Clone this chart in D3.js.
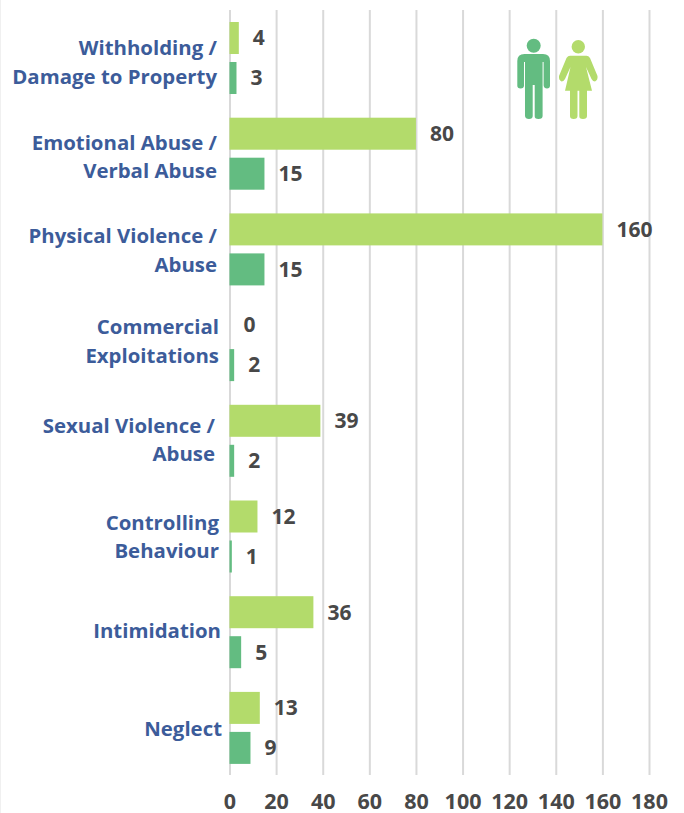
<!DOCTYPE html>
<html>
<head>
<meta charset="utf-8">
<script src="https://cdn.jsdelivr.net/npm/d3@7"></script>
<style>
html, body { margin: 0; padding: 0; background: #fff; }
text { font-family: "Open Sans", sans-serif; font-weight: 700; }
</style>
</head>
<body>
<div id="chart"></div>
<script>
var categories = [
	["Withholding /", "Damage to Property"],
	["Emotional Abuse /", "Verbal Abuse"],
	["Physical Violence /", "Abuse"],
	["Commercial", "Exploitations"],
	["Sexual Violence /", "Abuse"],
	["Controlling", "Behaviour"],
	["Intimidation"],
	["Neglect"]
];
var female = [4, 80, 160, 0, 39, 12, 36, 13];
var male = [3, 15, 15, 2, 2, 1, 5, 9];
var xTicks = [0, 20, 40, 60, 80, 100, 120, 140, 160, 180];

// category labels were hand placed in the original
var labelRight = [217, 217, 217, 219, 215, 219, 221, 222];
var labelNudge = [4.5, 3.5, 1, -3.5, -0.5, 0.5, -1, 1];

var width = 684, height = 813;
var lightGreen = "#b3db6b", darkGreen = "#63bc81";

var svg = d3.select("#chart").append("svg")
	.attr("width", width)
	.attr("height", height)
	.style("display", "block");

var x = d3.scaleLinear().domain([0, 180]).range([229.5, 649]);
var y = d3.scaleBand().domain(d3.range(categories.length)).range([10, 775.6]);
var inner = d3.scaleBand().domain(["female", "male"]).range([12, 84]).paddingInner(0.2);

// faint edge line on the left of the picture
svg.append("line")
	.attr("x1", 0.5).attr("x2", 0.5)
	.attr("y1", 0).attr("y2", height)
	.attr("stroke", "#f0f0f0");

var xAxis = d3.axisBottom(x)
	.tickValues(xTicks)
	.tickFormat(d3.format("d"))
	.tickSizeInner(-765)
	.tickSizeOuter(0)
	.tickPadding(19);

var axisG = svg.append("g")
	.attr("transform", "translate(0,775)")
	.call(xAxis);
axisG.select(".domain").remove();
axisG.selectAll(".tick line").attr("stroke", "#d9d9d9").attr("stroke-width", 2);
axisG.selectAll(".tick text")
	.attr("fill", "#484848")
	.style("font-size", "21.5px");

var series = [
	{key: "female", values: female, color: lightGreen},
	{key: "male", values: male, color: darkGreen}
];

series.forEach(function(s) {
	var g = svg.append("g");

	g.selectAll("rect")
		.data(s.values)
		.enter()
		.append("rect")
		.attr("x", x(0))
		.attr("y", function(d, i) { return y(i) + inner(s.key); })
		.attr("width", function(d) { return x(d) - x(0); })
		.attr("height", inner.bandwidth())
		.attr("fill", s.color);

	g.selectAll("text")
		.data(s.values)
		.enter()
		.append("text")
		.attr("x", function(d) { return x(d) + 14; })
		.attr("y", function(d, i) { return y(i) + inner(s.key) + inner.bandwidth() / 2; })
		.attr("dy", "0.35em")
		.attr("fill", "#484848")
		.style("font-size", "21px")
		.text(function(d) { return d; });
});

var labels = svg.append("g")
	.selectAll("text")
	.data(categories)
	.enter()
	.append("text")
	.attr("text-anchor", "end")
	.attr("fill", "#3c5c9a")
	.style("font-size", "20.4px");

labels.each(function(lines, i) {
	var cy = y(i) + y.bandwidth() / 2 + labelNudge[i];
	d3.select(this).selectAll("tspan")
		.data(lines)
		.enter()
		.append("tspan")
		.attr("x", labelRight[i])
		.attr("y", function(d, j) { return cy + (j - (lines.length - 1) / 2) * 28.3; })
		.attr("dy", "0.35em")
		.text(function(d) { return d; });
});

// man icon
var man = svg.append("g").attr("fill", darkGreen);
man.append("circle").attr("cx", 533.7).attr("cy", 45.7).attr("r", 7);
man.append("path").attr("d", "M524.5 54H543Q550 54 550 61V85.5Q550 88.5 547 88.5T543.6 85.5V62H542.6V116Q542.6 119 538.5 119T534.7 116V85H532.7V116Q532.7 119 529 119T525 116V62H524V85.5Q524 88.5 520.6 88.5T517.3 85.5V61Q517.3 54 524.5 54Z");

// woman icon
var woman = svg.append("g").attr("fill", lightGreen);
woman.append("circle").attr("cx", 578.3).attr("cy", 46.7).attr("r", 6.7);
woman.append("path").attr("d", "M570 55.7H586.5Q588.5 55.7 590 58L597.5 76Q598 80 595 81.5Q593 81.5 591.5 79L586 67L592 90.7H587V116Q587 119 583 119T579.3 116V90.7H577.5V116Q577.5 119 573.7 119T570 116V90.7H565L570.5 67L565 79Q563.5 81.5 561.5 81.5Q558.5 80 559 76L566.5 58Q568 55.7 570 55.7Z");
</script>
</body>
</html>
